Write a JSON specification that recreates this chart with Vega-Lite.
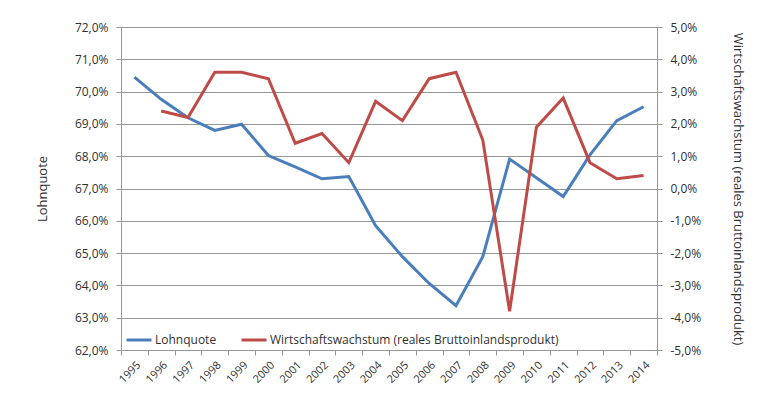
{
  "$schema": "https://vega.github.io/schema/vega-lite/v6.json",
  "width": 536,
  "height": 323,
  "autosize": {"type": "none"},
  "padding": {"left": 121, "top": 27, "right": 109, "bottom": 60},
  "background": "white",
  "data": {
    "values": [
      {"year": "1995", "lohnquote": 70.45, "wachstum": null},
      {"year": "1996", "lohnquote": 69.76, "wachstum": 2.4},
      {"year": "1997", "lohnquote": 69.19, "wachstum": 2.2},
      {"year": "1998", "lohnquote": 68.80, "wachstum": 3.6},
      {"year": "1999", "lohnquote": 68.99, "wachstum": 3.6},
      {"year": "2000", "lohnquote": 68.02, "wachstum": 3.4},
      {"year": "2001", "lohnquote": 67.67, "wachstum": 1.4},
      {"year": "2002", "lohnquote": 67.30, "wachstum": 1.7},
      {"year": "2003", "lohnquote": 67.37, "wachstum": 0.8},
      {"year": "2004", "lohnquote": 65.85, "wachstum": 2.7},
      {"year": "2005", "lohnquote": 64.89, "wachstum": 2.1},
      {"year": "2006", "lohnquote": 64.06, "wachstum": 3.4},
      {"year": "2007", "lohnquote": 63.37, "wachstum": 3.6},
      {"year": "2008", "lohnquote": 64.89, "wachstum": 1.5},
      {"year": "2009", "lohnquote": 67.91, "wachstum": -3.8},
      {"year": "2010", "lohnquote": 67.33, "wachstum": 1.9},
      {"year": "2011", "lohnquote": 66.75, "wachstum": 2.8},
      {"year": "2012", "lohnquote": 68.04, "wachstum": 0.8},
      {"year": "2013", "lohnquote": 69.10, "wachstum": 0.3},
      {"year": "2014", "lohnquote": 69.53, "wachstum": 0.4}
    ]
  },
  "encoding": {
    "x": {
      "field": "year",
      "type": "ordinal",
      "scale": {"type": "band", "paddingInner": 0, "paddingOuter": 0},
      "axis": {
        "title": null,
        "labelAngle": -45,
        "labelFontSize": 11,
        "tickBand": "extent",
        "tickSize": 5,
        "labelPadding": 4,
        "grid": false
      }
    }
  },
  "layer": [
    {
      "mark": {"type": "line", "strokeWidth": 3},
      "encoding": {
        "y": {
          "field": "lohnquote",
          "type": "quantitative",
          "scale": {"domain": [62, 72], "nice": false, "zero": false},
          "axis": {
            "title": "Lohnquote",
            "orient": "left",
            "values": [62, 63, 64, 65, 66, 67, 68, 69, 70, 71, 72],
            "labelExpr": "replace(format(datum.value, '.1f'), '.', ',') + '%'",
            "grid": true,
            "tickSize": 5,
            "labelPadding": 8,
            "titlePadding": 25
          }
        },
        "color": {
          "datum": "Lohnquote",
          "type": "nominal",
          "scale": {
            "domain": ["Lohnquote", "Wirtschaftswachstum (reales Bruttoinlandsprodukt)"],
            "range": ["#4A7EBB", "#BE4B48"]
          },
          "legend": {
            "orient": "bottom-left",
            "direction": "horizontal",
            "title": null,
            "symbolType": "stroke",
            "symbolSize": 625,
            "symbolStrokeWidth": 3,
            "labelFontSize": 12,
            "labelFont": "Open Sans",
            "labelColor": "#303030",
            "labelLimit": 0,
            "labelOffset": 2,
            "columnPadding": 18,
            "offset": 4,
            "padding": 0
          }
        }
      }
    },
    {
      "mark": {"type": "line", "strokeWidth": 3},
      "encoding": {
        "y": {
          "field": "wachstum",
          "type": "quantitative",
          "scale": {"domain": [-5, 5], "nice": false, "zero": false},
          "axis": {
            "title": "Wirtschaftswachstum (reales Bruttoinlandsprodukt)",
            "orient": "right",
            "values": [-5, -4, -3, -2, -1, 0, 1, 2, 3, 4, 5],
            "labelExpr": "replace(replace(format(datum.value, '.1f'), '.', ','), '−', '-') + '%'",
            "grid": false,
            "tickSize": 5,
            "labelPadding": 8,
            "titlePadding": 30
          }
        },
        "color": {"datum": "Wirtschaftswachstum (reales Bruttoinlandsprodukt)", "type": "nominal"}
      }
    }
  ],
  "resolve": {"scale": {"y": "independent"}},
  "config": {
    "font": "Open Sans",
    "view": {"stroke": null},
    "axis": {
      "labelFont": "Open Sans",
      "labelFontSize": 12,
      "labelColor": "#303030",
      "titleFont": "Open Sans",
      "titleFontSize": 13,
      "titleFontWeight": "normal",
      "titleColor": "#303030",
      "domainColor": "#969696",
      "tickColor": "#969696",
      "gridColor": "#969696",
      "gridOpacity": 1
    }
  }
}
